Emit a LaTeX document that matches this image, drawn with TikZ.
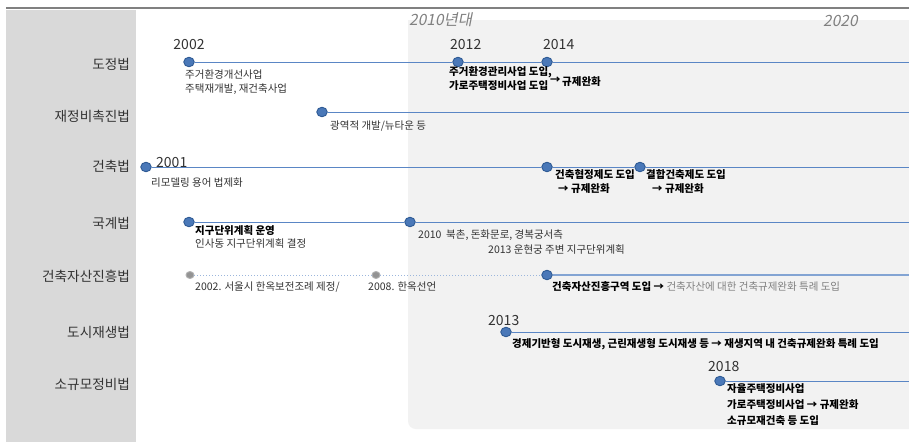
\documentclass[tikz,border=0pt]{standalone}
\usepackage{fontspec}
\setmainfont{Noto Sans CJK KR}
\newfontfamily\itfont[FakeSlant=0.2]{Noto Sans CJK KR}
\usetikzlibrary{shapes.geometric}
\definecolor{lineblue}{HTML}{5A86C5}
\definecolor{dotfill}{HTML}{4A78B8}
\definecolor{dotdraw}{HTML}{2E5A94}
\definecolor{panelL}{HTML}{D9D9D9}
\definecolor{panelR}{HTML}{F2F2F2}
\definecolor{txtgray}{HTML}{333333}
\definecolor{hdrgray}{HTML}{808080}
\tikzset{
  lbl/.style={anchor=east, inner sep=0pt, text=txtgray, font=\fontsize{13.6}{15}\selectfont},
  yr/.style={anchor=west, inner sep=0pt, text=txtgray, font=\fontsize{14}{16}\selectfont},
  txt/.style={anchor=west, inner sep=0pt, text=txtgray, font=\fontsize{10.5}{12}\selectfont},
  btxt/.style={anchor=west, inner sep=0pt, text=black, font=\fontsize{10.5}{12}\selectfont\bfseries},
  hdr/.style={anchor=west, inner sep=0pt, text=hdrgray, font=\fontsize{15.5}{17}\selectfont\itfont},
  bdot/.style={ellipse, draw=dotdraw, fill=dotfill, line width=0.9pt, minimum width=10.5pt, minimum height=9.5pt, inner sep=0pt},
  gdot/.style={ellipse, draw=gray!60, fill=gray!85, line width=0.9pt, minimum width=8pt, minimum height=7pt, inner sep=0pt},
  tl/.style={draw=lineblue, line width=0.9pt},
  tldot/.style={draw=lineblue!60, line width=1pt, dotted},
  tlsoft/.style={draw=lineblue!75, line width=1.3pt},
}
\begin{document}
\begin{tikzpicture}[x=1pt,y=-1pt]
\useasboundingbox (0,0) rectangle (909,442);
\fill[white] (0,0) rectangle (909,442);
% panels
\fill[panelL] (6,10) rectangle (136,442);
\fill[panelR, rounded corners=8pt] (408,20) rectangle (930,429);
\fill[panelR] (408,20) rectangle (425,40);
\draw[hdrgray, line width=2.6pt] (6,8) -- (909,8);
% headers
\node[hdr] (h2010) at (409,20) {2010년대};
\node[hdr] (h2020) at (823,21) {2020};
% row labels
\node[lbl] (l1) at (130,64) {도정법};
\node[lbl] (l2) at (130,116) {재정비촉진법};
\node[lbl] (l3) at (130,166) {건축법};
\node[lbl] (l4) at (130,223) {국계법};
\node[lbl] (l5) at (130,276) {건축자산진흥법};
\node[lbl] (l6) at (130,332) {도시재생법};
\node[lbl] (l7) at (130,384) {소규모정비법};
% dots
\node[bdot] (a1) at (189,62) {};
\node[bdot] (a2) at (458,62) {};
\node[bdot] (a3) at (547,62) {};
\coordinate (ae) at (909,62);
\node[bdot] (b1) at (322,112) {};
\coordinate (be) at (909,112);
\node[bdot] (c1) at (146,167) {};
\node[bdot] (c2) at (547,167) {};
\node[bdot] (c3) at (640,167) {};
\coordinate (ce) at (909,167);
\node[bdot] (d1) at (189,222) {};
\node[bdot] (d2) at (410,222) {};
\coordinate (de) at (909,222);
\node[gdot] (e1) at (190,275) {};
\node[gdot] (e2) at (376,275) {};
\node[bdot] (e3) at (547,275) {};
\coordinate (ee) at (909,275);
\node[bdot] (f1) at (506,332) {};
\coordinate (fe) at (909,332);
\node[bdot] (g1) at (720,381) {};
\coordinate (ge) at (909,381);
% lines
\draw[tl] (a1) -- (a2) -- (a3) -- (ae);
\draw[tl] (b1) -- (be);
\draw[tl] (c1) -- (c2) -- (c3) -- (ce);
\draw[tl] (d1) -- (d2) -- (de);
\draw[tldot] (e1) -- (e2) -- (e3);
\draw[tlsoft] (e3) -- (ee);
\draw[tl] (f1) -- (fe);
\draw[tl] (g1) -- (ge);
% row 1
\node[yr, anchor=center] (y2002) at (189,45) {2002};
\node[txt] (t11) at (185,75) {주거환경개선사업};
\node[txt] (t12) at (185,89) {주택재개발, 재건축사업};
\node[yr] (y2012) at (450,45) {2012};
\node[yr] (y2014) at (543,45) {2014};
\node[btxt] (t13) at (449,72) {주거환경관리사업 도입,};
\node[btxt] (t14) at (449,86) {가로주택정비사업 도입};
\node[btxt] (t15) at (550,80) {→};
\node[btxt] (t16) at (562,82) {규제완화};
% row 2
\node[txt] (t21) at (330,126) {광역적 개발/뉴타운 등};
% row 3
\node[yr] (y2001) at (156,163) {2001};
\node[txt] (t31) at (151,183) {리모델링 용어 법제화};
\node[btxt] (t32) at (555,175) {건축협정제도 도입};
\node[btxt] (t33) at (558,189) {→ 규제완화};
\node[btxt] (t34) at (646,175) {결합건축제도 도입};
\node[btxt] (t35) at (652,189) {→ 규제완화};
% row 4
\node[btxt] (t41) at (195,231) {지구단위계획 운영};
\node[txt] (t42) at (195,244) {인사동 지구단위계획 결정};
\node[txt] (t43) at (418,235) {2010\ \ 북촌, 돈화문로, 경복궁서측};
\node[txt] (t44) at (488,250) {2013 운현궁 주변 지구단위계획};
% row 5
\node[txt] (t51) at (195,287) {2002. 서울시 한옥보전조례 제정/};
\node[txt] (t52) at (368,287) {2008. 한옥선언};
\node[btxt] (t53) at (552,287) {건축자산진흥구역 도입 →};
\node[txt, text=gray] (t54) at ([xshift=2pt]t53.east) {건축자산에 대한 건축규제완화 특례 도입};
% row 6
\node[yr] (y2013) at (488,321) {2013};
\node[btxt] (t61) at (512,344) {경제기반형 도시재생, 근린재생형 도시재생 등 → 재생지역 내 건축규제완화 특례 도입};
% row 7
\node[yr] (y2018) at (708,367) {2018};
\node[btxt] (t71) at (727,389) {자율주택정비사업};
\node[btxt] (t72) at (727,405) {가로주택정비사업 → 규제완화};
\node[btxt] (t73) at (727,421) {소규모재건축 등 도입};
\end{tikzpicture}
\end{document}
